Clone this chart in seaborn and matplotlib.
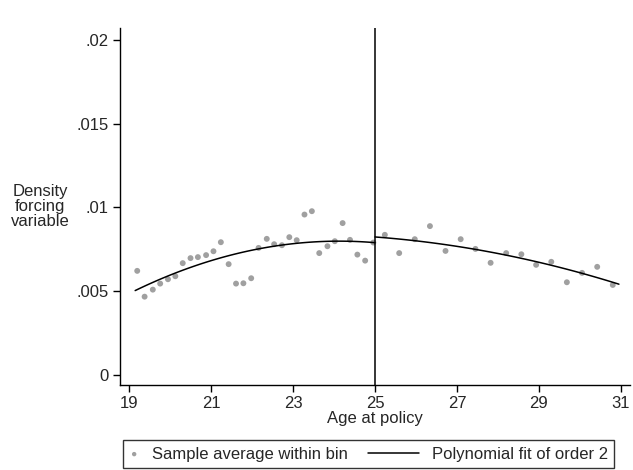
import numpy as np
import pandas as pd
import matplotlib
matplotlib.use("Agg")
import matplotlib.pyplot as plt
from matplotlib.legend_handler import HandlerLine2D
import seaborn as sns

# bin averages, left of the cutoff (age < 25)
age_left = [19.20, 19.38, 19.58, 19.76, 19.95, 20.13, 20.31, 20.50, 20.68, 20.88,
            21.06, 21.24, 21.43, 21.61, 21.79, 21.98, 22.16, 22.36, 22.54, 22.73,
            22.91, 23.09, 23.28, 23.46, 23.64, 23.84, 24.02, 24.21, 24.39, 24.57,
            24.76, 24.96]
dens_left = [0.00621, 0.00467, 0.00509, 0.00545, 0.00571, 0.00589, 0.00667, 0.00697,
             0.00703, 0.00715, 0.00738, 0.00792, 0.00661, 0.00545, 0.00547, 0.00577,
             0.00758, 0.00812, 0.00780, 0.00774, 0.00822, 0.00804, 0.00957, 0.00977,
             0.00727, 0.00768, 0.00798, 0.00906, 0.00806, 0.00718, 0.00682, 0.00790]

# bin averages, right of the cutoff (age >= 25)
age_right = [25.24, 25.59, 25.97, 26.34, 26.72, 27.09, 27.45, 27.82, 28.20, 28.57,
             28.93, 29.30, 29.68, 30.05, 30.42, 30.80]
dens_right = [0.00836, 0.00727, 0.00810, 0.00888, 0.00740, 0.00810, 0.00752, 0.00669,
              0.00727, 0.00720, 0.00657, 0.00675, 0.00553, 0.00609, 0.00645, 0.00537]

cutoff = 25
fit_range_left = (19.15, 25)
fit_range_right = (25, 30.95)


class LongLineHandler(HandlerLine2D):
    # stata-style legend: short slot, but the line reaches back to the left
    def get_xdata(self, legend, xdescent, ydescent, width, height, fontsize):
        x1 = -xdescent + width
        x0 = x1 - 3.1 * fontsize
        return np.array([x0, x1]), np.array([x0, x1])


sns.set_style("white")
plt.rcParams['font.family'] = ['Liberation Sans', 'DejaVu Sans']

fig = plt.figure(figsize=(6.33, 4.70), dpi=100)
ax = fig.add_axes([120 / 633, 1 - 385 / 470, 510 / 633, 357 / 470])

pts = pd.DataFrame({
    'age': age_left + age_right,
    'dens': dens_left + dens_right,
})
sns.scatterplot(data=pts, x='age', y='dens', color='#a0a0a0', s=18,
                edgecolor='none', ax=ax, label='Sample average within bin',
                legend=False)

# quadratic fit on each side of the cutoff
fit_lines = []
for xs, ys, rng in [(age_left, dens_left, fit_range_left),
                    (age_right, dens_right, fit_range_right)]:
    coef = np.polyfit(xs, ys, 2)
    grid = np.linspace(rng[0], rng[1], 100)
    sns.lineplot(x=grid, y=np.polyval(coef, grid), color='black', linewidth=1.1,
                 ax=ax, legend=False)
    fit_lines.append(ax.lines[-1])

ax.axvline(cutoff, color='black', linewidth=1.1)

ax.set_xlim(18.78, 31.22)
ax.set_ylim(-0.0006, 0.0207)
ax.set_xticks([19, 21, 23, 25, 27, 29, 31])
ax.set_yticks([0, 0.005, 0.01, 0.015, 0.02])
ax.set_yticklabels(['0', '.005', '.01', '.015', '.02'])
ax.tick_params(axis='both', direction='out', length=5, width=1, labelsize=12,
               color='black', left=True, bottom=True, pad=3)

for side in ['top', 'right']:
    ax.spines[side].set_visible(False)
for side in ['left', 'bottom']:
    ax.spines[side].set_color('black')
    ax.spines[side].set_linewidth(1)

ax.set_xlabel('Age at policy', fontsize=12, labelpad=0)
ax.set_ylabel('Density\nforcing\nvariable', fontsize=12, rotation=0,
              ha='center', va='center', linespacing=1.0)
ax.yaxis.set_label_coords(-0.157, 0.5)

scatter_handle = ax.collections[0]
leg = fig.legend([scatter_handle, fit_lines[0]],
                 ['Sample average within bin', 'Polynomial fit of order 2'],
                 loc='center', bbox_to_anchor=(368.5 / 633, 1 - 454 / 470),
                 ncol=2, frameon=True, fancybox=False, fontsize=12,
                 handlelength=0.6, handletextpad=0.75, columnspacing=3.7,
                 borderpad=0.38, markerscale=0.75,
                 handler_map={fit_lines[0]: LongLineHandler()})
leg.get_frame().set_edgecolor('black')
leg.get_frame().set_linewidth(1)

fig.savefig('out.png', dpi=100)
